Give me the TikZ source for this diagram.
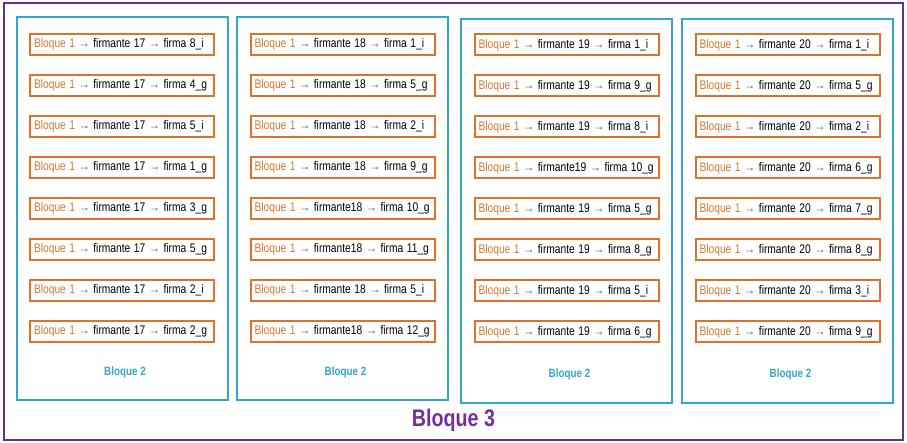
\documentclass[tikz,border=0pt]{standalone}
\usepackage{fontspec}
\setmainfont{Liberation Sans}[FakeStretch=0.82]
\usepackage{xcolor}
\usepackage{graphicx}
\usetikzlibrary{positioning}

\definecolor{morado}{HTML}{6B2D8F}
\definecolor{moradotxt}{HTML}{7030A0}
\definecolor{azul}{HTML}{33A5D0}
\definecolor{naranja}{HTML}{E07128}
\definecolor{naranjatxt}{HTML}{D8782F}
\newcommand{\fl}{{\color{black!65}\scalebox{1.1}[0.95]{→}}}
\newcommand{\ruta}[1]{\makebox[176pt][l]{\spaceskip=3.5pt\relax
  \textcolor{naranjatxt}{Bloque 1} \fl{} #1}}

\begin{document}
\begin{tikzpicture}[x=1pt, y=-1pt,
  font=\fontsize{12.5}{15}\selectfont,
  marco/.style={draw=morado, line width=2pt, minimum width=899pt,
                minimum height=437pt, inner sep=0pt},
  bloque/.style={draw=azul, line width=2pt, minimum width=211pt,
                 minimum height=383pt, inner sep=0pt},
  firma/.style={draw=naranja, line width=2pt, fill=white, inner xsep=4pt,
                inner ysep=0pt, minimum height=21pt},
  etq/.style={text=azul, font=\fontsize{12}{14}\selectfont\bfseries, inner sep=0pt}]

\useasboundingbox (0,0) rectangle (907,443);

% outer frame and the four columns
\node[marco] (b3) at (453.5,221.5) {};
\node[text=moradotxt, font=\fontsize{24}{28}\selectfont\bfseries, inner sep=0pt,
      above=9pt of b3.south] (t3) {Bloque 3};

\node[bloque] (c17) at (122,208.5) {};
\node[bloque] (c18) at (342.5,208.5) {};
\node[bloque] (c19) at (566.5,211) {};
\node[bloque] (c20) at (787.5,211) {};

\foreach \c in {c17, c18, c19, c20}
  \node[etq, above=23pt of \c.south, xshift=3pt] (\c-lab) {Bloque 2};

% rows of each column
\foreach \t [count=\i] in {firmante 17 \fl{} firma 8\_i, firmante 17 \fl{} firma 4\_g,
    firmante 17 \fl{} firma 5\_i, firmante 17 \fl{} firma 1\_g,
    firmante 17 \fl{} firma 3\_g, firmante 17 \fl{} firma 5\_g,
    firmante 17 \fl{} firma 2\_i, firmante 17 \fl{} firma 2\_g}
  \node[firma, below=17pt of c17.north, yshift={-41*(\i-1)}] (c17-\i) {\ruta{\t}};

\foreach \t [count=\i] in {firmante 18 \fl{} firma 1\_i, firmante 18 \fl{} firma 5\_g,
    firmante 18 \fl{} firma 2\_i, firmante 18 \fl{} firma 9\_g,
    firmante18 \fl{} firma 10\_g, firmante18 \fl{} firma 11\_g,
    firmante 18 \fl{} firma 5\_i, firmante18 \fl{} firma 12\_g}
  \node[firma, below=17pt of c18.north, yshift={-41*(\i-1)}] (c18-\i) {\ruta{\t}};

\foreach \t [count=\i] in {firmante 19 \fl{} firma 1\_i, firmante 19 \fl{} firma 9\_g,
    firmante 19 \fl{} firma 8\_i, firmante19 \fl{} firma 10\_g,
    firmante 19 \fl{} firma 5\_g, firmante 19 \fl{} firma 8\_g,
    firmante 19 \fl{} firma 5\_i, firmante 19 \fl{} firma 6\_g}
  \node[firma, below=15pt of c19.north, yshift={-41*(\i-1)}] (c19-\i) {\ruta{\t}};

\foreach \t [count=\i] in {firmante 20 \fl{} firma 1\_i, firmante 20 \fl{} firma 5\_g,
    firmante 20 \fl{} firma 2\_i, firmante 20 \fl{} firma 6\_g,
    firmante 20 \fl{} firma 7\_g, firmante 20 \fl{} firma 8\_g,
    firmante 20 \fl{} firma 3\_i, firmante 20 \fl{} firma 9\_g}
  \node[firma, below=15pt of c20.north, yshift={-41*(\i-1)}] (c20-\i) {\ruta{\t}};
\end{tikzpicture}
\end{document}
